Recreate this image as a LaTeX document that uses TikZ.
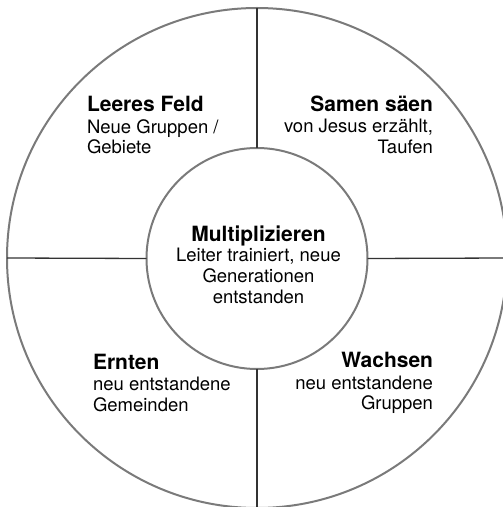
\documentclass[tikz,border=0pt]{standalone}
\usepackage{fontspec}
\setmainfont{TeX Gyre Heros}
\begin{document}
\begin{tikzpicture}[x=1pt,y=1pt,
  ring/.style={circle,draw=ringgray,line width=2pt,inner sep=0pt,outer sep=0pt},
  divider/.style={draw=linedark,line width=1.3pt},
  label/.style={inner sep=0pt,outer sep=0pt,font=\fontsize{18.5}{20.7}\selectfont}]
\definecolor{ringgray}{HTML}{7A7A7A}
\definecolor{linedark}{HTML}{333333}
\newcommand{\ttl}[1]{{\fontsize{21}{22}\selectfont\bfseries #1}}
\useasboundingbox (0,0) rectangle (503,507);
\node[ring,minimum size=500pt] (O) at (257,249) {};
\node[ring,minimum size=221pt] (I) at (257,248.5) {};
\draw[divider] (I.north) -- (O.north);
\draw[divider] (I.south) -- (O.south);
\draw[divider] (I.west) -- (O.west);
\draw[divider] (I.east) -- (O.east);
\node[label,anchor=base west,align=left] (lf) at (87,353) {\ttl{Leeres Feld}\\[1pt]Neue Gruppen /\\Gebiete};
\node[label,anchor=base east,align=right] (ss) at (433,353.5) {\ttl{Samen säen}\\[1pt]von Jesus erzählt,\\Taufen};
\node[label,anchor=base,align=center] (mu) at (258.5,203.7) {\ttl{Multiplizieren}\\Leiter trainiert, neue\\Generationen\\entstanden};
\node[label,anchor=base west,align=left] (er) at (93,95.3) {\ttl{Ernten}\\[1pt]neu entstandene\\Gemeinden};
\node[label,anchor=base east,align=right] (wa) at (433,97) {\ttl{Wachsen}\\[1pt]neu entstandene\\Gruppen};
\end{tikzpicture}
\end{document}
